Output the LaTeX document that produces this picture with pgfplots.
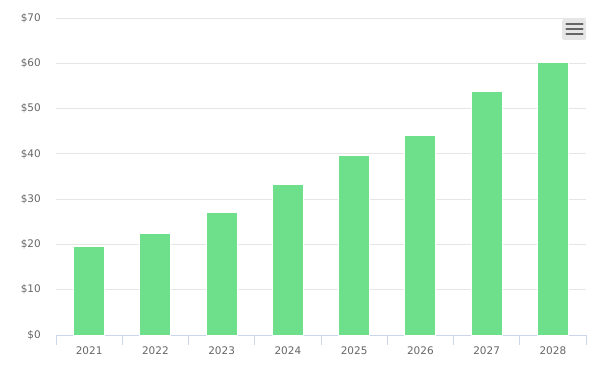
\documentclass[border=0pt]{standalone}
\usepackage{fontspec}
\setmainfont{DejaVu Sans}
\usepackage{pgfplots}
\pgfplotsset{compat=1.18}
\definecolor{barg}{RGB}{110,224,140}
\definecolor{gridc}{RGB}{230,230,230}
\definecolor{axc}{RGB}{204,214,235}
\definecolor{labc}{RGB}{102,102,102}
\begin{document}
\begin{tikzpicture}
\useasboundingbox (0,0) rectangle (593bp,366bp);
\begin{axis}[
  at={(56bp,31bp)}, anchor=south west,
  scale only axis, width=530bp, height=317bp,
  xmin=-0.5, xmax=7.5, ymin=0, ymax=70,
  axis x line*=bottom, axis y line*=left,
  y axis line style={draw=none},
  x axis line style={draw=axc, line width=1bp, -},
  xtick={0,...,7},
  xticklabels={2021,2022,2023,2024,2025,2026,2027,2028},
  major x tick style={draw=none},
  minor xtick={-0.5,0.5,...,7.5},
  minor x tick style={draw=axc, line width=1bp},
  minor tick length=10bp,
  tick align=outside,
  ytick={0,10,...,70},
  yticklabels={\$0,\$10,\$20,\$30,\$40,\$50,\$60,\$70},
  major y tick style={draw=none},
  ymajorgrids, grid style={draw=gridc, line width=1bp},
  ticklabel style={font=\fontsize{10.5}{12}\selectfont, text=labc, inner sep=0pt},
  xticklabel style={anchor=north, yshift=-12bp},
  yticklabel style={anchor=east, xshift=-15bp},
  major tick length=0pt,
  clip=false,
]
\addplot[ybar, bar width=31bp, fill=barg, draw=white, line width=1bp] coordinates {
(0,19.5) (1,22.4) (2,27.1) (3,33.2) (4,39.7) (5,44.1) (6,53.8) (7,60.1)
};
\end{axis}
\fill[gridc, rounded corners=2bp] (562bp,326bp) rectangle (586bp,347bp);
\foreach \yy in {341.7,336.7,331.7} {
  \draw[labc, line width=2.4bp, line cap=round] (566.5bp,\yy bp) -- (582.5bp,\yy bp);
}
\end{tikzpicture}
\end{document}
